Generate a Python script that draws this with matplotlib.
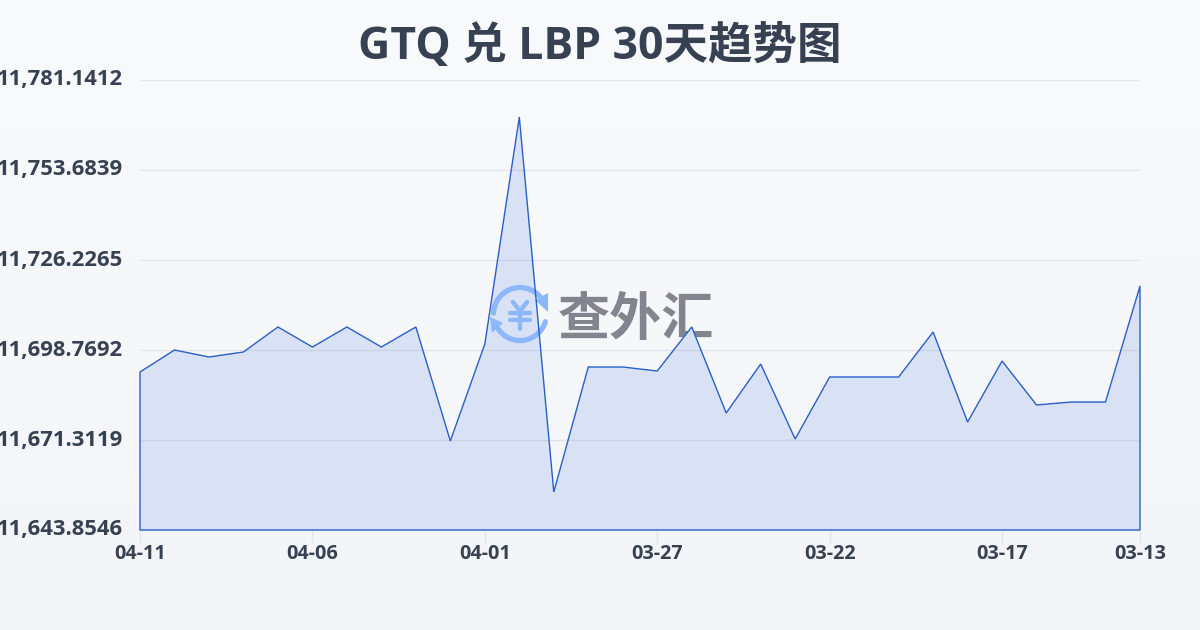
import matplotlib

matplotlib.use("Agg")
import matplotlib.pyplot as plt
import numpy as np
from matplotlib.patches import Arc, Polygon

FONTS = ["Open Sans", "Noto Sans CJK SC", "DejaVu Sans"]
plt.rcParams["font.family"] = FONTS

title = "GTQ 兑 LBP 30天趋势图"
dates = [
    "04-11", "04-10", "04-09", "04-08", "04-07", "04-06", "04-05", "04-04", "04-03", "04-02",
    "04-01", "03-31", "03-30", "03-29", "03-28", "03-27", "03-26", "03-25", "03-24", "03-23",
    "03-22", "03-21", "03-20", "03-19", "03-18", "03-17", "03-16", "03-15", "03-14", "03-13",
]
rates = [
    11692.06, 11698.77, 11696.63, 11698.16, 11705.79, 11699.68, 11705.79, 11699.68, 11705.79, 11671.01,
    11700.60, 11769.85, 11655.45, 11693.58, 11693.58, 11692.36, 11705.79, 11679.55, 11694.50, 11671.62,
    11690.53, 11690.53, 11690.53, 11704.26, 11676.80, 11695.41, 11681.99, 11682.90, 11682.90, 11718.29,
]
y_ticks = [11643.8546, 11671.3119, 11698.7692, 11726.2265, 11753.6839, 11781.1412]
x_tick_idx = [0, 5, 10, 15, 20, 25, 29]

W, H = 1200, 630
INK = "#374151"
LINE = "#2a5fc9"
LOGO = "#8db7fb"

fig = plt.figure(figsize=(W / 100, H / 100), dpi=100)

# page background, a faint top to bottom gradient
bg = fig.add_axes([0, 0, 1, 1], zorder=0)
bg.imshow(
    np.linspace(0, 1, 256).reshape(-1, 1),
    aspect="auto",
    extent=(0, W, H, 0),
    cmap=matplotlib.colors.LinearSegmentedColormap.from_list("page", ["#f9fafc", "#f3f5f8"]),
    zorder=0,
)
bg.set_xlim(0, W)
bg.set_ylim(H, 0)
bg.axis("off")
px = bg.transData  # pixel coordinates for the watermark

ax = fig.add_axes([140 / W, 1 - 530 / H, 1000 / W, 450 / H], zorder=1)
ax.patch.set_alpha(0)
xs = np.arange(len(rates))
ax.set_xlim(0, len(rates) - 1)
ax.set_ylim(y_ticks[0], y_ticks[-1])

ax.set_yticks(y_ticks)
ax.set_yticklabels([])
ax.set_xticks(x_tick_idx)
ax.set_xticklabels([])
ax.grid(axis="y", color="#7f8ca3", alpha=0.16, linewidth=1)
ax.set_axisbelow(False)
ax.tick_params(axis="y", length=0)
ax.tick_params(axis="x", length=10, width=1, color="#e3e6ec", direction="out")
for s in ax.spines.values():
    s.set_visible(False)

# labels sit slightly off the ticks in the original
for v in y_ticks:
    ax.annotate(f"{v:,.4f}", (0, v), xytext=(-12.2, 0), textcoords="offset points",
                ha="right", va="center", fontsize=15.8, fontweight="bold", color=INK,
                annotation_clip=False)
for i in x_tick_idx:
    ax.annotate(dates[i], (i, y_ticks[0]), xytext=(0, -17), textcoords="offset points",
                ha="center", va="center", fontsize=14.2, fontweight="bold", color=INK,
                annotation_clip=False)

# watermark text stays under the area, the logo over it
ax.text(636, 319, "查外汇", transform=px, ha="center", va="center", fontsize=37.5, fontweight="bold",
        color="#82858d", family=["Noto Sans CJK SC"], zorder=1, clip_on=False)

outline = list(zip(xs, rates)) + [(xs[-1], y_ticks[0]), (xs[0], y_ticks[0])]
ax.add_patch(Polygon(outline, closed=True, facecolor="#d9e2f5", edgecolor="none", zorder=2))
ax.add_patch(Polygon(outline, closed=True, fill=False, edgecolor=LINE, linewidth=1.0,
                     joinstyle="miter", clip_on=False, zorder=4))

for t1, t2 in [(182, 320), (17, 145)]:
    ax.add_patch(Arc((520, 314), 53, 53, theta1=t1, theta2=t2, color=LOGO, linewidth=3.8,
                     capstyle="round", transform=px, clip_on=False, zorder=3))
ax.add_patch(Polygon([(535, 300), (548, 293), (548, 312)], closed=True, facecolor=LOGO,
                     edgecolor="none", transform=px, zorder=3))
ax.add_patch(Polygon([(490, 317), (503, 323), (492, 333)], closed=True, facecolor=LOGO,
                     edgecolor="none", transform=px, zorder=3))
yen_strokes = [
    ([513, 520, 527], [302, 311, 302]),
    ([520, 520], [311, 329]),
    ([510, 530], [313, 313]),
    ([510, 530], [320, 320]),
]
for sx, sy in yen_strokes:
    ax.plot(sx, sy, color=LOGO, linewidth=3.2, solid_capstyle="round", transform=px, zorder=3,
            clip_on=False)

fig.text(0.5, 1 - 47 / H, title, ha="center", va="center", fontsize=32, fontweight="bold",
         color=INK, family=FONTS)

fig.savefig("out.png", dpi=100)
